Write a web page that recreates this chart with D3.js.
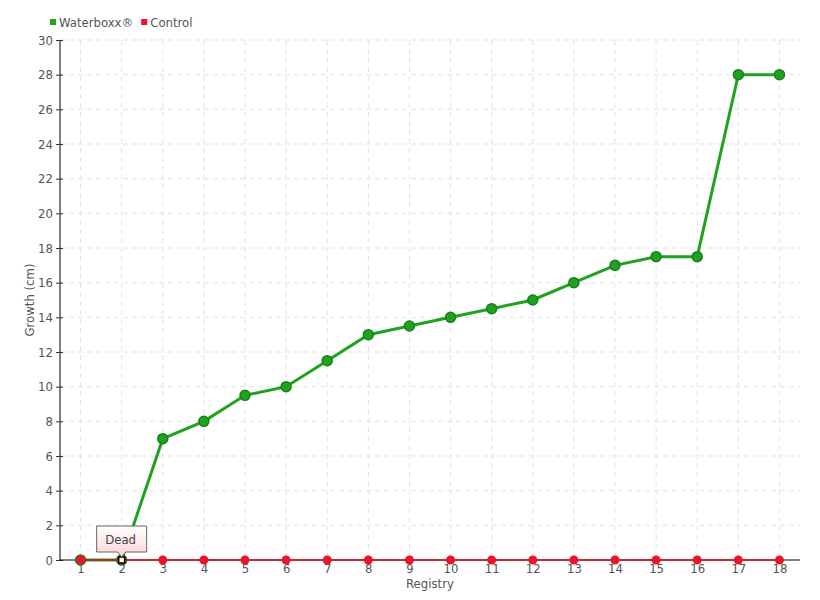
<!DOCTYPE html>
<html>
<head>
<meta charset="utf-8">
<script src="https://cdn.jsdelivr.net/npm/d3@7"></script>
<style>
  body { margin: 0; background: #fff; }
  text { font-family: "DejaVu Sans", sans-serif; font-stretch: condensed; }
</style>
</head>
<body>
<div id="chart"></div>
<script>
// Data
const registry = [1, 2, 3, 4, 5, 6, 7, 8, 9, 10, 11, 12, 13, 14, 15, 16, 17, 18];
const waterboxx = [0, 0, 7, 8, 9.5, 10, 11.5, 13, 13.5, 14, 14.5, 15, 16, 17, 17.5, 17.5, 28, 28];
const control = [0, 0, 0, 0, 0, 0, 0, 0, 0, 0, 0, 0, 0, 0, 0, 0, 0, 0];
const yTicks = [0, 2, 4, 6, 8, 10, 12, 14, 16, 18, 20, 22, 24, 26, 28, 30];
const seriesNames = ["Waterboxx®", "Control"];
const seriesColors = ["#1fa31f", "#e8162c"];

const margin = { top: 40, right: 20, bottom: 40, left: 60 };
const width = 820 - margin.left - margin.right;
const height = 600 - margin.top - margin.bottom;

const svg = d3.select("#chart").append("svg")
    .attr("width", 820)
    .attr("height", 600)
  .append("g")
    .attr("transform", "translate(" + margin.left + "," + margin.top + ")");

const x = d3.scalePoint()
    .domain(registry)
    .range([0, width])
    .padding(0.5);

const y = d3.scaleLinear()
    .domain([0, 30])
    .range([height, 0]);

// Grid lines
svg.append("g")
    .selectAll("line")
    .data(yTicks.filter(d => d > 0))
  .enter().append("line")
    .attr("x1", 0)
    .attr("x2", width)
    .attr("y1", d => y(d))
    .attr("y2", d => y(d))
    .attr("stroke", "#e3e3e3")
    .attr("stroke-dasharray", "5,4");

svg.append("g")
    .selectAll("line")
    .data(registry)
  .enter().append("line")
    .attr("x1", d => x(d))
    .attr("x2", d => x(d))
    .attr("y1", 0)
    .attr("y2", height)
    .attr("stroke", "#e3e3e3")
    .attr("stroke-dasharray", "5,4");

// Axes
const yAxis = svg.append("g")
    .call(d3.axisLeft(y).tickValues(yTicks).tickSize(4).tickPadding(3));
yAxis.selectAll(".tick line").attr("x2", 3).attr("x1", -4).attr("stroke", "#333");
yAxis.select(".domain").attr("stroke", "#000").attr("d", "M0,0V" + height);
yAxis.selectAll("text").attr("fill", "#555").attr("font-size", "13px");

const xAxis = svg.append("g")
    .attr("transform", "translate(0," + height + ")")
    .call(d3.axisBottom(x).tickSize(4).tickPadding(0));
xAxis.select(".domain").attr("stroke", "#000").attr("d", "M0,0H" + width);
xAxis.selectAll(".tick line").attr("stroke", "#333");
xAxis.selectAll("text").attr("fill", "#555").attr("font-size", "13px");

svg.append("text")
    .attr("x", width / 2)
    .attr("y", height + 28)
    .attr("text-anchor", "middle")
    .attr("fill", "#555")
    .attr("font-size", "13px")
    .text("Registry");

svg.append("text")
    .attr("transform", "rotate(-90)")
    .attr("x", -height / 2)
    .attr("y", -26)
    .attr("text-anchor", "middle")
    .attr("fill", "#555")
    .attr("font-size", "13px")
    .text("Growth (cm)");

const line = d3.line()
    .x((d, i) => x(registry[i]))
    .y(d => y(d));

// Waterboxx series
svg.append("path")
    .datum(waterboxx)
    .attr("fill", "none")
    .attr("stroke", seriesColors[0])
    .attr("stroke-width", 3)
    .attr("d", line);

svg.selectAll(".wPoint")
    .data(waterboxx)
  .enter().append("circle")
    .attr("class", "wPoint")
    .attr("cx", (d, i) => x(registry[i]))
    .attr("cy", d => y(d))
    .attr("r", 5)
    .attr("fill", seriesColors[0])
    .attr("stroke", "#1b7f1b")
    .attr("stroke-width", 1.5);

// Control series
svg.append("path")
    .datum(control)
    .attr("fill", "none")
    .attr("stroke", "#d80f22")
    .attr("stroke-width", 1.5)
    .attr("d", line);

svg.selectAll(".cPoint")
    .data(control)
  .enter().append("circle")
    .attr("class", "cPoint")
    .attr("cx", (d, i) => x(registry[i]))
    .attr("cy", d => y(d))
    .attr("r", 4.5)
    .attr("fill", seriesColors[1]);

// Highlighted point (Dead) marker
svg.append("rect")
    .attr("x", x(2) - 3)
    .attr("y", y(0) - 3)
    .attr("width", 6)
    .attr("height", 6)
    .attr("fill", "#fff")
    .attr("stroke", "#000")
    .attr("stroke-width", 1.5);

// Tooltip
const defs = svg.append("defs");
const grad = defs.append("linearGradient")
    .attr("id", "tipGrad")
    .attr("x1", 0).attr("y1", 0).attr("x2", 0).attr("y2", 1);
grad.append("stop").attr("offset", "0%").attr("stop-color", "#fff");
grad.append("stop").attr("offset", "100%").attr("stop-color", "#fdd3d6");

const tx = x(2), ty = y(0);
const tip = svg.append("g");
tip.append("path")
    .attr("d", "M" + (tx - 25) + "," + (ty - 34) +
        "H" + (tx + 25) + "V" + (ty - 8) +
        "H" + (tx + 4) + "L" + tx + "," + (ty - 3) +
        "L" + (tx - 4) + "," + (ty - 8) +
        "H" + (tx - 25) + "Z")
    .attr("fill", "url(#tipGrad)")
    .attr("stroke", "#666")
    .attr("stroke-width", 1);
tip.append("text")
    .attr("x", tx - 1)
    .attr("y", ty - 16)
    .attr("text-anchor", "middle")
    .attr("fill", "#444")
    .attr("font-size", "13px")
    .text("Dead");

// Legend
const legend = svg.append("g")
    .attr("transform", "translate(-10,-18)");
let lx = 0;
seriesNames.forEach((name, i) => {
    legend.append("rect")
        .attr("x", lx)
        .attr("y", -3)
        .attr("width", 6)
        .attr("height", 6)
        .attr("fill", seriesColors[i]);
    const t = legend.append("text")
        .attr("x", lx + 9)
        .attr("y", 5)
        .attr("fill", "#555")
        .attr("font-size", "13px")
        .text(name);
    lx += 9 + t.node().getComputedTextLength() + 8;
});
</script>
</body>
</html>
